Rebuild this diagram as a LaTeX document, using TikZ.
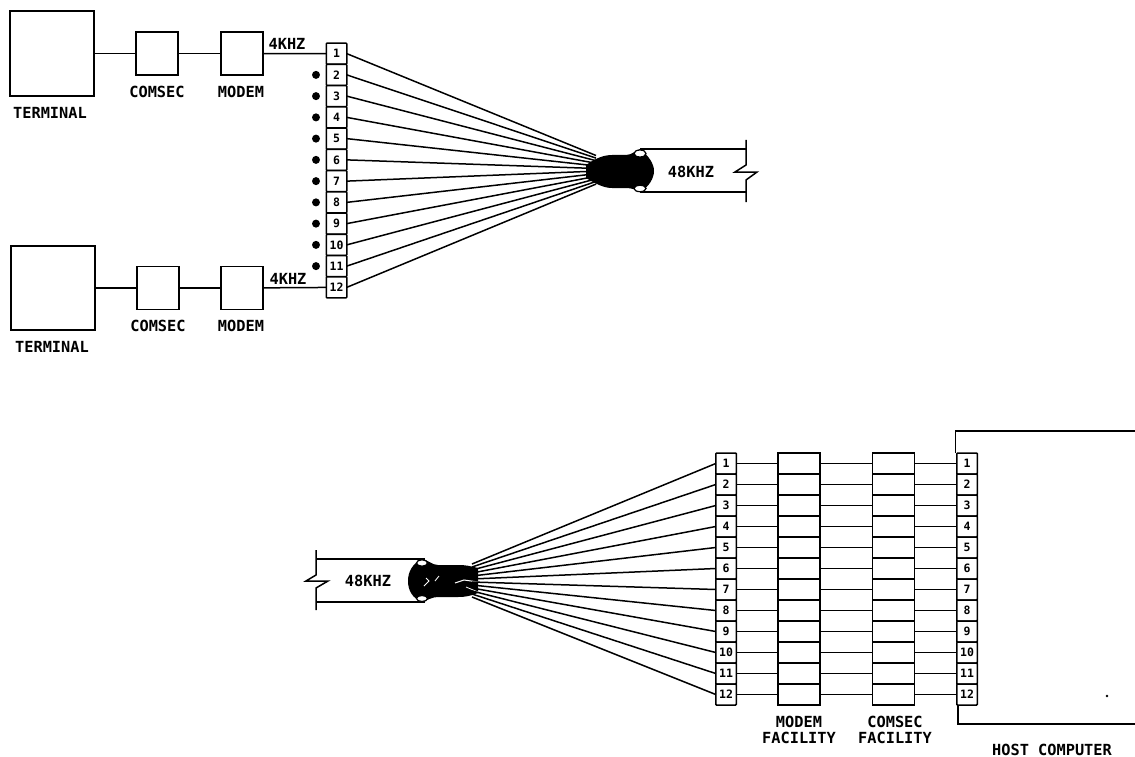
\documentclass[tikz,border=0pt]{standalone}
\usepackage{fontspec}
\setmonofont{DejaVu Sans Mono}
\tikzset{
  ink/.style={line width=1.5pt,draw=black},
  box/.style={ink,inner sep=0pt,outer sep=0pt,fill=white},
  cell/.style={box,minimum width=20.5pt,minimum height=21pt,rounded corners=0.8pt,font=\ttfamily\bfseries\fontsize{11.5}{12}\selectfont},
  bank/.style={box,line width=1.3pt,minimum width=42pt,minimum height=21pt},
  lbl/.style={inner sep=0pt,font=\ttfamily\bfseries\fontsize{15.3}{16}\selectfont},
  dot/.style={circle,fill=black,inner sep=0pt,minimum size=8pt},
  eye/.style={line width=1.2pt,draw=black,fill=white}
}
\begin{document}
\begin{tikzpicture}[x=1pt,y=-1pt]
\useasboundingbox[fill=white] (0,0) rectangle (1135,757);
% ---------- upper left chains
\node[box,minimum width=84pt,minimum height=85pt] (t1) at (52,53.5) {};
\node[box,minimum width=42pt,minimum height=43pt] (s1) at (157,53.5) {};
\node[box,minimum width=42pt,minimum height=43pt] (d1) at (242,53.5) {};
\node[box,minimum width=84pt,minimum height=84pt] (t2) at (53,288) {};
\node[box,minimum width=42pt,minimum height=43pt] (s2) at (158,288) {};
\node[box,minimum width=42pt,minimum height=43pt] (d2) at (242,288) {};
\node[lbl] (l1) at (50,113) {TERMINAL};
\node[lbl] (l2) at (157,92) {COMSEC};
\node[lbl] (l3) at (241,92) {MODEM};
\node[lbl] (l4) at (52,347) {TERMINAL};
\node[lbl] (l5) at (158,326) {COMSEC};
\node[lbl] (l6) at (241,326) {MODEM};
\node[lbl] (k1) at (287,44) {4KHZ};
\node[lbl] (k2) at (288,279) {4KHZ};
% upper patch panel
\foreach \i in {1,...,12}{
  \pgfmathsetmacro{\yy}{43+21.25*(\i-0.5)}
  \node[cell] (p\i) at (336.5,\yy) {\i};
  \pgfmathsetmacro{\ye}{155.5+2.6*(\i-1)}
  \coordinate (f\i) at (596,\ye);
  \draw[ink] (p\i.east) -- (f\i);
}
\foreach \i in {2,...,11}{
  \pgfmathsetmacro{\yy}{43+21.25*(\i-0.5)}
  \node[dot] (o\i) at (316,\yy) {};
}
\draw[ink] (t1) -- (s1);
\draw[ink] (s1) -- (d1);
\draw[ink] (d1) -- (p1);
\draw[ink] (t2) -- (s2);
\draw[ink] (s2) -- (d2);
\draw[ink] (d2) -- (p12);
% upper cable
\coordinate (ca) at (640,149);
\coordinate (cb) at (640,192);
\coordinate (cc) at (746,149);
\coordinate (cd) at (746,192);
\draw[ink] (ca) -- (cc);
\draw[ink] (cb) -- (cd);
\draw[ink] (746,140) -- (746,165) -- (735,172) -- (757,172) -- (746,180) -- (746,202);
\fill[black] (586,165) .. controls (596,158) and (604,155) .. (612,155) -- (626,155)
  .. controls (632,155) and (636,150) .. (640,149)
  .. controls (649,156) and (654,164) .. (654,171)
  .. controls (654,178) and (649,187) .. (640,192)
  .. controls (636,190) and (632,188) .. (626,188) -- (612,188)
  .. controls (604,188) and (596,184) .. (586,178) -- cycle;
\draw[eye] (640,153.5) ellipse [x radius=6pt,y radius=3.5pt];
\draw[eye] (640,188.5) ellipse [x radius=6pt,y radius=3.2pt];
\node[lbl] (r1) at (691,172) {48KHZ};
% ---------- lower cable
\coordinate (ce) at (425,559);
\coordinate (cf) at (425,602);
\coordinate (cg) at (316,559);
\coordinate (ch) at (316,602);
\draw[ink] (ce) -- (cg);
\draw[ink] (cf) -- (ch);
\draw[ink] (316,550) -- (316,575) -- (306,581) -- (328,581) -- (316,588) -- (316,610);
\fill[black] (478,568) .. controls (470,566) and (466,565) .. (458,565) -- (438,565)
  .. controls (432,565) and (428,560) .. (422,559)
  .. controls (412,564) and (408,572) .. (408,581)
  .. controls (408,590) and (412,598) .. (422,602)
  .. controls (428,600) and (432,597) .. (438,597) -- (458,597)
  .. controls (466,597) and (470,596) .. (478,593) -- cycle;
\draw[eye] (422,563) ellipse [x radius=5.5pt,y radius=3.2pt];
\draw[eye] (422,598.5) ellipse [x radius=5.5pt,y radius=3pt];
\draw[white,line width=0.9pt] (424,586) -- (429,581) -- (426,578);
\draw[white,line width=0.8pt] (435,581) -- (439,576);
\draw[white,line width=1pt] (455,583) -- (464,580) -- (478,582);
\draw[white,line width=0.8pt] (466,587) -- (478,592);
\node[lbl] (r2) at (368,581) {48KHZ};
% ---------- lower bank
\foreach \i in {1,...,12}{
  \pgfmathsetmacro{\yy}{453+21*(\i-0.5)}
  \pgfmathsetmacro{\ye}{564+3*(\i-1)}
  \node[cell] (a\i) at (726,\yy) {\i};
  \node[bank] (m\i) at (799,\yy) {};
  \node[bank] (c\i) at (893.5,\yy) {};
  \node[cell] (h\i) at (967,\yy) {\i};
  \coordinate (g\i) at (472,\ye);
  \draw[ink] (a\i.west) -- (g\i);
  \draw[ink] (a\i) -- (m\i);
  \draw[ink] (m\i) -- (c\i);
  \draw[ink] (c\i) -- (h\i);
}
% host computer
\coordinate (h0) at (955.5,453);
\coordinate (h9) at (958,705);
\coordinate (hr) at (1135,431);
\coordinate (hs) at (1135,724);
\draw[ink] (h0) -- (955.5,431) -- (hr);
\draw[ink] (h9) -- (958,724) -- (hs);
\fill[black] (1107,696) circle (1.3pt);
\node[lbl] (b1) at (799,722) {MODEM};
\node[lbl] (b2) at (799,738) {FACILITY};
\node[lbl] (b3) at (895,722) {COMSEC};
\node[lbl] (b4) at (895,738) {FACILITY};
\node[lbl] (b5) at (1052,750) {HOST COMPUTER};
\end{tikzpicture}
\end{document}
